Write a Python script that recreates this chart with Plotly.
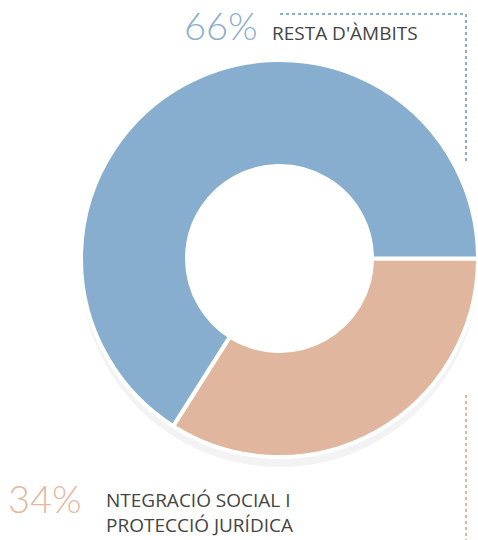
import plotly.graph_objects as go

W, H = 478, 540

labels = ["INTEGRACIÓ SOCIAL I PROTECCIÓ JURÍDICA", "RESTA D'ÀMBITS"]
values = [34, 66]
colors = ["#e0b79e", "#87aecf"]
pct_text = ["34%", "66%"]
name_text = ["NTEGRACIÓ SOCIAL I<br>PROTECCIÓ JURÍDICA", "RESTA D'ÀMBITS"]


def px(x):
    return x / W


def py(y):
    return 1 - y / H


left, cy = 81, 258.5
r = (W - left) / 2

fig = go.Figure()

# soft shadow behind the donut
soff = 10
fig.add_trace(go.Pie(
    values=[1], labels=["shadow"], hole=0.56, sort=False,
    marker=dict(colors=["#f3f3f3"], line=dict(width=0)),
    textinfo="none", hoverinfo="skip", showlegend=False,
    domain=dict(x=[px(left), 1], y=[py(cy + soff + r), py(cy + soff - r)]),
))

fig.add_trace(go.Pie(
    labels=labels, values=values, hole=0.466, sort=False,
    direction="clockwise", rotation=90,
    marker=dict(colors=colors, line=dict(color="white", width=4)),
    textinfo="none", showlegend=False,
    domain=dict(x=[px(left), 1], y=[py(cy + r), py(cy - r)]),
))

pct_font = "Lato, 'Open Sans', sans-serif"
lab_font = "'Open Sans', Lato, sans-serif"
ann = [
    dict(x=px(182), y=py(25), text=pct_text[1], font=dict(size=38, color="#8aafd0", family=pct_font, weight=300)),
    dict(x=px(270), y=py(33), text=name_text[1], font=dict(size=19, color="#444444", family=lab_font)),
    dict(x=px(6), y=py(498), text=pct_text[0], font=dict(size=38, color="#e3b8a0", family=pct_font, weight=300)),
    dict(x=px(104), y=py(512), text=name_text[0], font=dict(size=19, color="#444444", family=lab_font)),
]
for a in ann:
    fig.add_annotation(xref="paper", yref="paper", xanchor="left", yanchor="middle",
                       showarrow=False, align="left", **a)

dot_blue = dict(color="#87aecf", width=2, dash="dot")
dot_orange = dict(color="#e0b79e", width=2, dash="dot")
fig.add_shape(type="line", xref="paper", yref="paper", x0=px(280), y0=py(14), x1=px(466), y1=py(14), line=dot_blue)
fig.add_shape(type="line", xref="paper", yref="paper", x0=px(466), y0=py(14), x1=px(466), y1=py(163), line=dot_blue)
fig.add_shape(type="line", xref="paper", yref="paper", x0=px(466), y0=py(395), x1=px(466), y1=py(540), line=dot_orange)

fig.update_layout(
    width=W, height=H, margin=dict(l=0, r=0, t=0, b=0),
    paper_bgcolor="white", plot_bgcolor="white",
)

fig.write_html("out.html", config={"displayModeBar": False},
               post_script="document.body.style.margin='0';document.body.style.overflow='hidden';")
